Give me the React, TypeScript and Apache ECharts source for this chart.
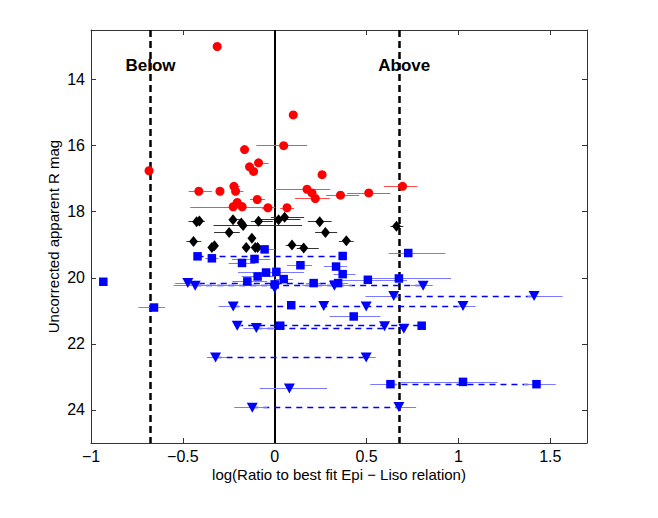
import React, { useEffect, useRef } from "react";
import * as echarts from "echarts";

type Pt = [number, number, number | null, number | null]; // x, R mag, error low, error high

const redPoints: Pt[] = [
  [-0.313, 13.0, null, null],
  [0.101, 15.07, null, null],
  [0.049, 16.0, -0.1, 0.176],
  [-0.164, 16.12, null, null],
  [-0.088, 16.52, -0.11, -0.033],
  [-0.137, 16.64, null, null],
  [-0.115, 16.78, null, null],
  [-0.684, 16.76, null, null],
  [0.258, 16.88, null, null],
  [-0.413, 17.38, -0.469, -0.342],
  [-0.298, 17.38, null, null],
  [-0.222, 17.23, -0.236, -0.19],
  [-0.213, 17.38, -0.23, -0.17],
  [0.176, 17.32, 0.003, 0.303],
  [0.203, 17.43, null, null],
  [0.221, 17.6, 0.11, 0.3],
  [0.358, 17.5, 0.28, 0.46],
  [0.512, 17.43, 0.394, 0.63],
  [0.696, 17.23, 0.594, 0.776],
  [-0.204, 17.72, -0.23, -0.17],
  [-0.226, 17.85, -0.46, 0.003],
  [-0.177, 17.85, null, null],
  [-0.095, 17.63, -0.135, -0.053],
  [-0.037, 17.88, -0.07, -0.02],
  [0.067, 17.88, 0.03, 0.105],
];

const blackPoints: Pt[] = [
  [-0.425, 18.3, -0.47, -0.38],
  [-0.41, 18.28, null, null],
  [-0.227, 18.24, -0.25, -0.19],
  [-0.182, 18.34, null, null],
  [-0.172, 18.42, -0.333, 0.149],
  [-0.088, 18.29, -0.13, -0.01],
  [0.021, 18.24, -0.078, 0.14],
  [0.054, 18.17, -0.02, 0.16],
  [0.245, 18.3, 0.18, 0.31],
  [0.663, 18.44, 0.63, 0.7],
  [-0.248, 18.63, -0.33, -0.19],
  [0.276, 18.63, 0.22, 0.34],
  [-0.442, 18.9, -0.48, -0.4],
  [-0.124, 18.8, null, null],
  [0.39, 18.88, 0.35, 0.43],
  [-0.342, 19.08, null, null],
  [-0.328, 19.03, null, null],
  [-0.155, 19.08, null, null],
  [-0.106, 19.08, null, null],
  [-0.093, 19.08, null, null],
  [0.094, 19.01, 0.06, 0.15],
  [0.158, 19.1, 0.12, 0.24],
];

const blueSquares: Pt[] = [
  [-0.933, 20.12, null, null],
  [-0.657, 20.9, -0.742, -0.597],
  [-0.42, 19.35, null, null],
  [-0.342, 19.41, -0.378, -0.306],
  [-0.11, 19.43, -0.233, -0.024],
  [-0.178, 19.55, -0.251, -0.106],
  [-0.055, 19.14, -0.1, 0.0],
  [-0.047, 19.84, -0.12, 0.0],
  [-0.093, 19.96, -0.18, 0.0],
  [-0.149, 20.11, -0.23, -0.04],
  [0.009, 19.82, -0.2, 0.16],
  [0.14, 19.62, 0.067, 0.203],
  [0.334, 19.66, 0.267, 0.394],
  [0.37, 19.89, 0.32, 0.44],
  [0.37, 19.34, null, null],
  [0.727, 19.25, 0.621, 0.929],
  [0.049, 20.04, 0.0, 0.1],
  [0.0, 20.2, null, null],
  [0.212, 20.16, 0.17, 0.25],
  [0.345, 20.16, 0.3, 0.4],
  [0.507, 20.06, 0.3, 0.72],
  [0.676, 20.02, 0.5, 0.96],
  [0.09, 20.83, null, null],
  [0.43, 21.17, 0.298, 0.576],
  [0.03, 21.45, null, null],
  [0.8, 21.45, 0.78, 0.82],
  [0.63, 23.22, 0.52, 0.667],
  [1.025, 23.15, 0.685, 1.213],
  [1.425, 23.22, 1.357, 1.53],
];

const blueTriangles: Pt[] = [
  [-0.473, 20.16, -0.542, -0.406],
  [-0.433, 20.24, -0.55, -0.02],
  [0.0, 20.32, null, null],
  [0.325, 20.24, 0.15, 0.42],
  [0.808, 20.24, 0.74, 0.86],
  [0.648, 20.55, 0.494, 0.676],
  [1.412, 20.55, 1.376, 1.567],
  [-0.226, 20.87, -0.306, -0.188],
  [0.267, 20.85, null, null],
  [0.498, 20.87, null, null],
  [1.025, 20.85, 0.994, 1.094],
  [-0.204, 21.45, -0.22, -0.18],
  [-0.1, 21.52, -0.17, 0.0],
  [0.598, 21.47, null, null],
  [0.703, 21.54, null, null],
  [-0.322, 22.41, -0.369, -0.26],
  [0.498, 22.41, 0.48, 0.55],
  [0.08, 23.35, -0.082, 0.285],
  [-0.122, 23.93, -0.22, -0.04],
  [0.676, 23.91, 0.66, 0.77],
];

// dashed links: [x start, x end, R mag]
const dashedLinks: [number, number, number][] = [
  [-0.42, 0.37, 19.34],
  [-0.473, 0.345, 20.15],
  [-0.433, 0.808, 20.24],
  [0.648, 1.412, 20.55],
  [-0.226, 1.025, 20.86],
  [-0.204, 0.8, 21.45],
  [-0.1, 0.703, 21.52],
  [-0.322, 0.498, 22.41],
  [0.63, 1.425, 23.22],
  [-0.122, 0.676, 23.92],
];

const regionEdges = [-0.68, 0.68];
const regionLabels: { name: string; x: number; y: number }[] = [
  { name: "Below", x: -0.676, y: 13.58 },
  { name: "Above", x: 0.705, y: 13.58 },
];

const X_MIN = -1;
const X_MAX = 1.7;
const Y_MIN = 12.5;
const Y_MAX = 25;

const FONT = "'Liberation Sans', Arial, Helvetica, sans-serif";

const errLines = (pts: Pt[]) =>
  pts
    .filter((p) => p[2] !== null && p[3] !== null)
    .map((p) => ({ coords: [[p[2] as number, p[1]], [p[3] as number, p[1]]] }));

const xFmt = (v: number) => {
  const k = v / 0.5;
  if (Math.abs(k - Math.round(k)) > 1e-6 || v > 1.5 + 1e-9) return "";
  const s = String(Math.round(v * 10) / 10);
  return s.replace("-", "\u2212");
};
const yFmt = (v: number) => {
  const r = Math.round(v);
  if (Math.abs(v - r) > 1e-6 || r % 2 !== 0 || r < 14 || r > 24) return "";
  return String(r);
};

const AXIS_COLOR = "#333333";

export default function App() {
  const ref = useRef<HTMLDivElement>(null);
  useEffect(() => {
    document.body.style.margin = "0";
    if (!ref.current) return;
    const chart = echarts.init(ref.current, undefined, { renderer: "svg" });
    const baseX = {
      type: "value" as const,
      min: X_MIN,
      max: X_MAX,
      interval: 0.5,
      splitLine: { show: false },
      axisLine: { onZero: false, lineStyle: { color: AXIS_COLOR, width: 1 } },
      axisTick: { inside: true, length: 5, lineStyle: { color: AXIS_COLOR } },
    };
    const baseY = {
      type: "value" as const,
      min: Y_MIN,
      max: Y_MAX,
      splitNumber: 6,
      inverse: true,
      splitLine: { show: false },
      axisLine: { onZero: false, lineStyle: { color: AXIS_COLOR, width: 1 } },
      axisTick: { inside: true, length: 5, lineStyle: { color: AXIS_COLOR } },
    };
    const markerSeries = (name: string, pts: Pt[], symbol: string, size: number | number[], color: string, rotate = 0) => ({
      type: "scatter",
      name,
      data: pts.map((p) => [p[0], p[1]]),
      symbol,
      symbolSize: size,
      symbolRotate: rotate,
      itemStyle: { color, opacity: 1 },
      z: 5,
      silent: true,
    });
    const errSeries = (pts: Pt[], color: string) => ({
      type: "lines",
      coordinateSystem: "cartesian2d",
      data: errLines(pts),
      lineStyle: { color, width: 1.2, opacity: 1 },
      z: 2,
      silent: true,
    });
    chart.setOption({
      animation: false,
      backgroundColor: "#ffffff",
      textStyle: { fontFamily: FONT },
      grid: { left: 91, right: 71, top: 30, bottom: 75, containLabel: false },
      xAxis: [
        {
          ...baseX,
          position: "bottom",
          name: "log(Ratio to best fit Epi \u2212 Liso relation)",
          nameLocation: "middle",
          nameGap: 24,
          nameMoveOverlap: false,
          nameTextStyle: { fontSize: 15, color: "#000", fontFamily: FONT },
          axisLabel: { formatter: xFmt, fontSize: 16, color: "#000", margin: 5, fontFamily: FONT },
        },
        {
          ...baseX,
          position: "top",
          axisLabel: { show: false },
        },
      ],
      yAxis: [
        {
          ...baseY,
          position: "left",
          name: "Uncorrected apparent R mag",
          nameLocation: "middle",
          nameGap: 30,
          nameMoveOverlap: false,
          nameTextStyle: { fontSize: 15, color: "#000", fontFamily: FONT },
          axisLabel: { formatter: yFmt, fontSize: 16, color: "#000", margin: 6, fontFamily: FONT },
        },
        {
          ...baseY,
          position: "right",
          axisLabel: { show: false },
        },
      ],
      series: [
        {
          type: "lines",
          coordinateSystem: "cartesian2d",
          data: [{ coords: [[0, Y_MIN], [0, Y_MAX]] }],
          lineStyle: { color: "#000", width: 2, opacity: 1 },
          z: 1,
          silent: true,
        },
        {
          type: "lines",
          coordinateSystem: "cartesian2d",
          data: regionEdges.map((x) => ({ coords: [[x, Y_MIN], [x, Y_MAX]] })),
          lineStyle: { color: "#000", width: 2.5, type: [7, 4], opacity: 1 },
          z: 1,
          silent: true,
        },
        {
          type: "lines",
          coordinateSystem: "cartesian2d",
          data: dashedLinks.map((d) => ({ coords: [[d[0], d[2]], [d[1], d[2]]] })),
          lineStyle: { color: "#0000ff", width: 1.3, type: [6, 5], opacity: 1 },
          z: 2,
          silent: true,
        },
        errSeries(redPoints, "#ff4a4a"),
        errSeries(blackPoints, "#333333"),
        errSeries(blueSquares, "#7a7aff"),
        errSeries(blueTriangles, "#7a7aff"),
        markerSeries("red", redPoints, "circle", 9, "#ff0000"),
        markerSeries("black", blackPoints, "diamond", [9, 11], "#000000"),
        markerSeries("squares", blueSquares, "rect", 8.5, "#0000ff"),
        markerSeries("triangles", blueTriangles, "triangle", [11, 10], "#0000ff", 180),
        {
          type: "scatter",
          data: regionLabels.map((l) => ({ name: l.name, value: [l.x, l.y] })),
          symbolSize: 0,
          silent: true,
          z: 6,
          itemStyle: { color: "#000", opacity: 1 },
          label: {
            show: true,
            position: "inside",
            formatter: (p: any) => p.name,
            fontSize: 17,
            fontWeight: "bold",
            color: "#000",
            textBorderWidth: 0,
            textBorderColor: "transparent",
            opacity: 1,
            fontFamily: FONT,
          },
        },
      ],
    });
    return () => chart.dispose();
  }, []);
  return <div ref={ref} style={{ width: 658, height: 518 }} />;
}
